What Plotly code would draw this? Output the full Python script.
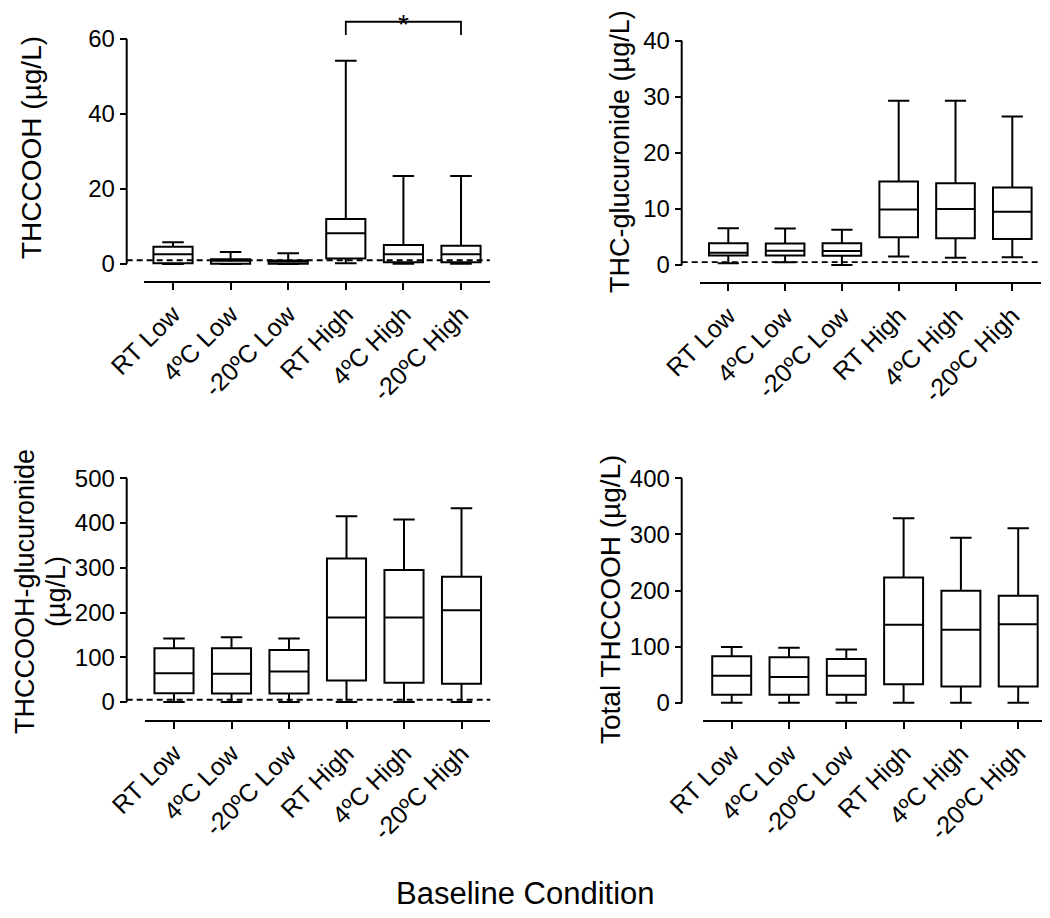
import plotly.graph_objects as go

# The page body adds an 8 px margin, so the figure is drawn at (8, 8) in the window.
OFF = 8
W, H = 1050 - OFF, 918 - OFF


def fx(px):
    return (px - OFF) / W


def fy(py):
    return 1 - (py - OFF) / H


categories = ["RT Low", "4ºC Low", "-20ºC Low", "RT High", "4ºC High", "-20ºC High"]

# Panel A: THCCOOH (µg/L)
thccooh_lower = [0.0, 0.0, 0.0, 0.2, 0.1, 0.1]
thccooh_q1 = [0.2, 0.05, 0.05, 1.5, 0.45, 0.45]
thccooh_median = [2.6, 0.9, 0.7, 8.2, 2.6, 2.6]
thccooh_q3 = [4.6, 1.3, 0.95, 12.0, 5.1, 4.9]
thccooh_upper = [5.8, 3.2, 2.9, 54.2, 23.5, 23.5]
thccooh_loq = 1.0

# Panel B: THC-glucuronide (µg/L)
thcgluc_lower = [0.3, 0.5, 0.0, 1.5, 1.3, 1.4]
thcgluc_q1 = [1.7, 1.7, 1.65, 4.95, 4.75, 4.65]
thcgluc_median = [2.2, 2.55, 2.5, 9.9, 10.0, 9.5]
thcgluc_q3 = [3.9, 3.85, 3.9, 14.9, 14.6, 13.8]
thcgluc_upper = [6.55, 6.5, 6.3, 29.3, 29.3, 26.5]
thcgluc_loq = 0.5

# Panel C: THCCOOH-glucuronide (µg/L)
thccoohgluc_lower = [0, 0, 0, 0, 0, 0]
thccoohgluc_q1 = [19.5, 19, 19, 48, 43, 41]
thccoohgluc_median = [64, 63, 68, 189, 189, 205]
thccoohgluc_q3 = [120, 120, 116, 321, 295, 280]
thccoohgluc_upper = [142, 145, 142, 415, 408, 433]
thccoohgluc_loq = 5.0

# Panel D: Total THCCOOH (µg/L)
total_lower = [0, 0, 0, 0, 0, 0]
total_q1 = [14, 14, 14, 33, 29, 29]
total_median = [48, 46, 48, 139, 130, 140]
total_q3 = [83, 81, 78, 223, 199.5, 190.5]
total_upper = [99.5, 98, 95, 329, 294, 311]

ytick_a = [0, 20, 40, 60]
ytick_b = [0, 10, 20, 30, 40]
ytick_c = [0, 100, 200, 300, 400, 500]
ytick_d = [0, 100, 200, 300, 400]

# significance comparison in panel A: RT High (index 3) vs -20ºC High (index 5)
sig_pair = [3, 5]
sig_label = "*"

FONT = "Liberation Sans, Arial, Helvetica, sans-serif"
YTICKFS = 24
XTICKFS = 25
TITLEFS = 27

panels = [
    dict(name="", lower=thccooh_lower, q1=thccooh_q1, med=thccooh_median, q3=thccooh_q3,
         upper=thccooh_upper, loq=thccooh_loq, ticks=ytick_a,
         yline_x=126.7, zero_px=264, top_px=39, lo=-2, hi=67.5,
         xline_y=282, c0=173, sp=57.6),
    dict(name="2", lower=thcgluc_lower, q1=thcgluc_q1, med=thcgluc_median, q3=thcgluc_q3,
         upper=thcgluc_upper, loq=thcgluc_loq, ticks=ytick_b,
         yline_x=681.7, zero_px=265, top_px=40.7, lo=-1, hi=41,
         xline_y=283.3, c0=728.3, sp=56.8),
    dict(name="3", lower=thccoohgluc_lower, q1=thccoohgluc_q1, med=thccoohgluc_median,
         q3=thccoohgluc_q3, upper=thccoohgluc_upper, loq=thccoohgluc_loq, ticks=ytick_c,
         yline_x=126.7, zero_px=702, top_px=478.3, lo=-15, hi=510,
         xline_y=721, c0=174, sp=57.5),
    dict(name="4", lower=total_lower, q1=total_q1, med=total_median, q3=total_q3,
         upper=total_upper, loq=None, ticks=ytick_d,
         yline_x=681.7, zero_px=702.7, top_px=478.3, lo=-12, hi=410,
         xline_y=721, c0=731.7, sp=57.3),
]

fig = go.Figure()
shapes = []
layout = {}

for p in panels:
    n = p["name"]
    xa = "x" + n
    ya = "y" + n
    topval = p["ticks"][-1]
    ppu = (p["zero_px"] - p["top_px"]) / topval
    ybot_px = p["zero_px"] - p["lo"] * ppu
    ytop_px = p["zero_px"] - p["hi"] * ppu
    ydom = [fy(ybot_px), fy(ytop_px)]
    xl = p["c0"] - 0.5 * p["sp"]
    xr = p["c0"] + 5.5 * p["sp"]
    xdom = [fx(xl), min(1.0, fx(xr))]

    fig.add_trace(go.Box(
        x=list(range(6)), q1=p["q1"], median=p["med"], q3=p["q3"],
        lowerfence=p["lower"], upperfence=p["upper"],
        xaxis=xa, yaxis=ya, boxpoints=False, width=0.68, whiskerwidth=0.55,
        line=dict(color="black", width=2), fillcolor="rgba(255,255,255,0)",
        showlegend=False, hoverinfo="skip",
    ))

    layout["xaxis" + n] = dict(
        domain=xdom, range=[-0.5, 5.5], anchor="free", position=fy(p["xline_y"]),
        automargin=False,
        showline=True, linecolor="black", linewidth=2, ticks="outside", ticklen=7,
        tickwidth=2, tickcolor="black", tickvals=list(range(6)), ticktext=categories,
        tickangle=-45, showgrid=False, zeroline=False,
        tickfont=dict(family=FONT, size=XTICKFS, color="black"),
    )
    layout["yaxis" + n] = dict(
        domain=ydom, range=[p["lo"], p["hi"]], anchor="free", position=fx(p["yline_x"]),
        automargin=False,
        showline=False, ticks="outside", ticklen=7, tickwidth=2, tickcolor="black",
        tickvals=p["ticks"], showgrid=False, zeroline=False,
        tickfont=dict(family=FONT, size=YTICKFS, color="black"),
    )
    # y axis line spanning 0..max tick
    shapes.append(dict(type="line", xref="paper", yref=ya, x0=fx(p["yline_x"]),
                       x1=fx(p["yline_x"]), y0=0, y1=topval,
                       line=dict(color="black", width=2)))
    if p["loq"] is not None:
        shapes.append(dict(type="line", xref="paper", yref=ya, x0=fx(p["yline_x"]),
                           x1=min(1.0, fx(xr)), y0=p["loq"], y1=p["loq"],
                           line=dict(color="black", width=1.8, dash="6px,4px")))

# significance bracket in panel A
a, b = sig_pair
shapes.append(dict(type="path", xref="x", yref="y",
                   path=f"M {a},61.1 L {a},64.6 L {b},64.6 L {b},61.1",
                   line=dict(color="black", width=1.8)))


def title(text, px, py, size=TITLEFS, angle=-90):
    return dict(text=text, x=fx(px), y=fy(py), xref="paper", yref="paper",
                xanchor="center", yanchor="middle", showarrow=False, textangle=angle,
                borderpad=0, font=dict(family=FONT, size=size, color="black"))


annotations = [
    dict(text=sig_label, x=(a + b) / 2, y=1.0, xref="x", yref="paper", showarrow=False,
         xanchor="center", yanchor="top", borderpad=0,
         font=dict(family=FONT, size=28, color="black")),
    title("THCCOOH (µg/L)", 31, 148, size=28),
    title("THC-glucuronide (µg/L)", 620, 152),
    title("THCCOOH-glucuronide", 25, 592),
    title("(µg/L)", 56, 592),
    title("Total THCCOOH (µg/L)", 610, 600, size=28),
    title("Baseline Condition", 525, 893, size=31, angle=0),
]

fig.update_layout(
    template="none",
    width=W, height=H, margin=dict(l=0, r=0, t=0, b=0, autoexpand=False),
    paper_bgcolor="white", plot_bgcolor="rgba(0,0,0,0)",
    shapes=shapes, annotations=annotations, showlegend=False,
    font=dict(family=FONT, color="black"),
    **layout,
)

fig.write_html("out.html")
